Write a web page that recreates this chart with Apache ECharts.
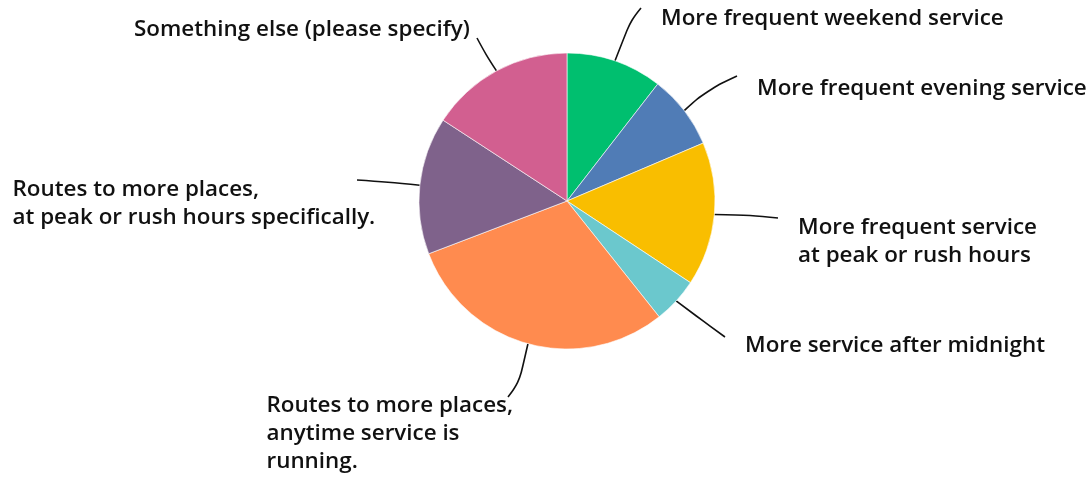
<!DOCTYPE html>
<html>
<head>
<meta charset="utf-8">
<script src="https://cdn.jsdelivr.net/npm/echarts@6/dist/echarts.min.js"></script>
<style>
  html, body { margin: 0; padding: 0; background: #fff; }
  #chart { width: 1088px; height: 477px; }
</style>
</head>
<body>
<div id="chart"></div>
<script>
// ---- data ----
const categories = [
  'More frequent weekend service',
  'More frequent evening service',
  'More frequent service at peak or rush hours',
  'More service after midnight',
  'Routes to more places, anytime service is running.',
  'Routes to more places, at peak or rush hours specifically.',
  'Something else (please specify)'
];
const labelTexts = [
  'More frequent weekend service',
  'More frequent evening service',
  'More frequent service\nat peak or rush hours',
  'More service after midnight',
  'Routes to more places,\nanytime service is\nrunning.',
  'Routes to more places,\nat peak or rush hours specifically.',
  'Something else (please specify)'
];
const values = [10.5, 8.1, 15.7, 5.0, 29.9, 15.0, 15.8];
const colors = ['#00BF6F', '#507CB6', '#F9BE00', '#6BC8CD', '#FF8B4F', '#7F628B', '#D25F90'];

// ---- label placement (layout only) ----
const LH = 28;
const labelPlace = [
  { x: 661, y: 16.7, mid: [631, 20], end: [641, 8] },
  { x: 757, y: 86.7, mid: [707, 90], end: [737, 76] },
  { x: 798, y: 226.3, mid: [750, 215], end: [778, 218] },
  { x: 745, y: 344, mid: [703, 321], end: [725, 337] },
  { x: 266.5, y: 404.5, mid: [519, 383], end: [508, 397] },
  { x: 12.5, y: 187.8, mid: [388, 182], end: [357, 180] },
  { x: 134, y: 28.3, mid: [486, 55], end: [477, 38] }
];
const capOffset = 1.5;

const chart = echarts.init(document.getElementById('chart'), null, { renderer: 'canvas' });
chart.setOption({
  animation: false,
  backgroundColor: '#ffffff',
  series: [{
    type: 'pie',
    center: [567, 201],
    radius: 148,
    startAngle: 90,
    clockwise: true,
    avoidLabelOverlap: false,
    itemStyle: { borderColor: '#ffffff', borderWidth: 0.6 },
    label: {
      show: true,
      position: 'outside',
      overflow: 'none',
      color: '#111111',
      fontFamily: 'Open Sans',
      fontWeight: 600,
      fontSize: 22.4,
      lineHeight: LH,
      align: 'left',
      formatter: function (p) { return labelTexts[p.dataIndex]; }
    },
    labelLine: {
      show: true,
      smooth: 0.4,
      lineStyle: { color: '#111111', width: 1.6 }
    },
    labelLayout: function (params) {
      const pl = labelPlace[params.dataIndex];
      const p0 = params.labelLinePoints ? params.labelLinePoints[0] : pl.mid;
      return {
        x: pl.x,
        y: pl.y - LH / 2 + capOffset,
        align: 'left',
        verticalAlign: 'top',
        labelLinePoints: [p0, pl.mid, pl.end]
      };
    },
    data: categories.map(function (c, i) {
      return { name: c, value: values[i], itemStyle: { color: colors[i] } };
    })
  }]
});
</script>
</body>
</html>
